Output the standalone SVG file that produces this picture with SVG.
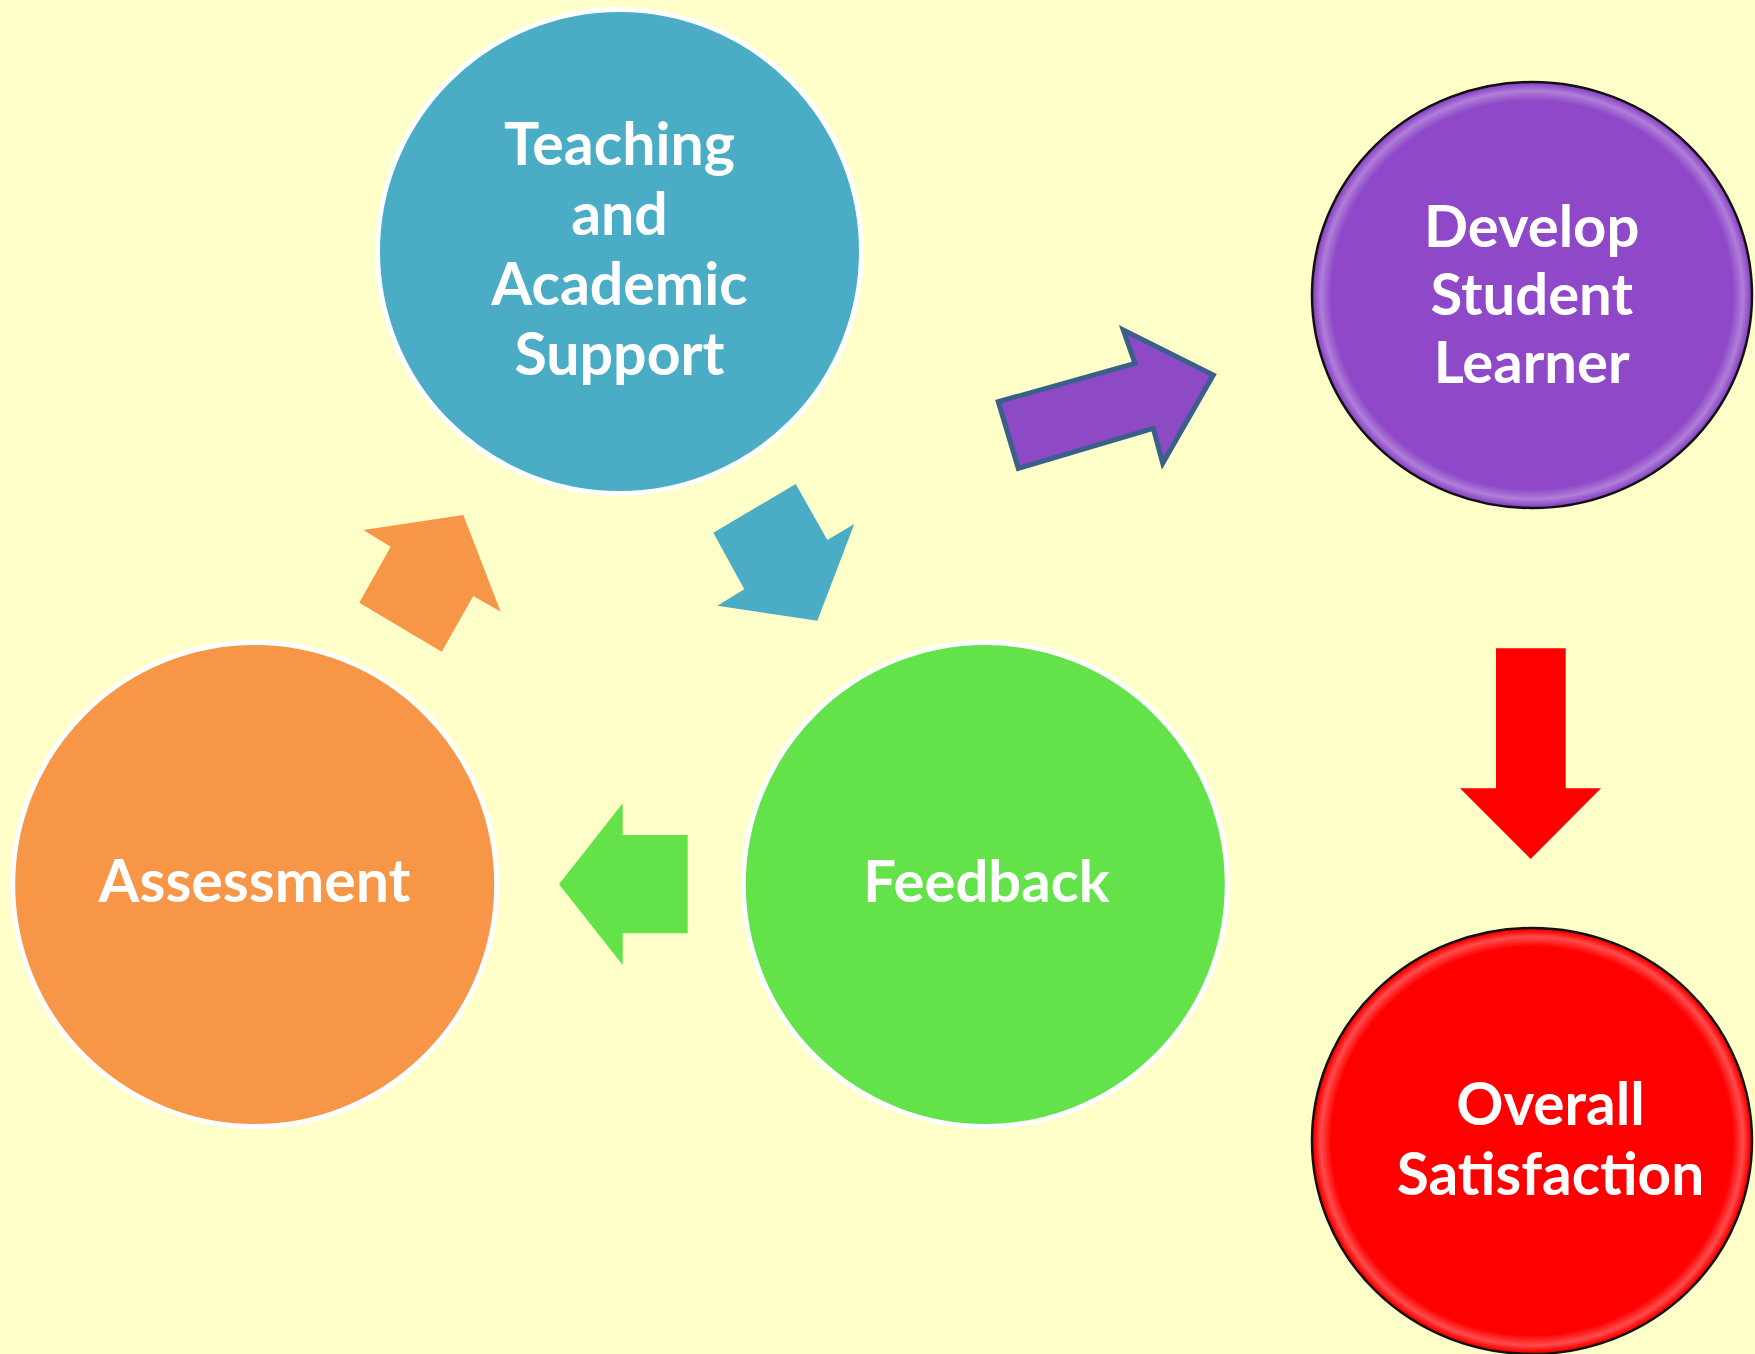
<svg xmlns="http://www.w3.org/2000/svg" width="1755" height="1354" viewBox="0 0 1755 1354">
<style>
.lbl{font-family:Lato,"Open Sans","Liberation Sans",sans-serif;font-weight:bold;fill:#ffffff;text-anchor:middle}
.ring{stroke:#ffffff;stroke-width:5}
</style>
<defs>
<radialGradient id="gloss" cx="0.5" cy="0.5" r="0.5">
<stop offset="0.92" stop-color="#ffffff" stop-opacity="0"/>
<stop offset="0.968" stop-color="#ffffff" stop-opacity="0.3"/>
<stop offset="1" stop-color="#ffffff" stop-opacity="0"/>
</radialGradient>
</defs>
<rect width="1755" height="1354" fill="#FFFFC9"/>
<g id="connectors">
<polygon points="363.3,530 463.3,515 500.7,611.7 473.3,596 441.7,651.7 359.3,602.7 390.7,546.7" fill="#F79646"/>
<polygon points="713.3,532.7 795.7,484 827.3,540 854.3,524 817.3,620.7 717.3,605.7 744.3,589.3" fill="#4BACC6"/>
<polygon points="559,884.3 622.7,803.3 622.7,835 687.7,835 687.7,933.3 622.7,933.3 622.7,965" fill="#63E24A"/>
<polygon points="998.3,401.7 1135,363.3 1123.3,330 1213.3,375 1162.7,463.3 1153.3,428.3 1018.3,468.3" fill="#8E4AC5" stroke="#3A5F8B" stroke-width="5" stroke-linejoin="miter"/>
<polygon points="1496,648.3 1565.7,648.3 1565.7,788.3 1601,788.3 1530.7,859 1460,788.3 1496,788.3" fill="#FF0000"/>
</g>
<g id="node-teaching">
<circle cx="619.5" cy="251.5" r="242" fill="#4BACC6" class="ring"/>
<text class="lbl" x="619.5" y="165" font-size="59">Teaching</text>
<text class="lbl" x="619.5" y="235" font-size="59">and</text>
<text class="lbl" x="619.5" y="305" font-size="59">Academic</text>
<text class="lbl" x="619.5" y="375" font-size="59">Support</text>
</g>
<g id="node-assessment">
<circle cx="254.7" cy="884.5" r="242" fill="#F79646" class="ring"/>
<text class="lbl" x="254.5" y="901.7" font-size="59">Assessment</text>
</g>
<g id="node-feedback">
<circle cx="985.3" cy="884.5" r="242" fill="#63E24A" class="ring"/>
<text class="lbl" x="986.5" y="901.7" font-size="58">Feedback</text>
</g>
<g id="node-develop">
<ellipse cx="1532" cy="295" rx="220" ry="213" fill="#8E48C8" stroke="#111111" stroke-width="2.5"/>
<ellipse cx="1532" cy="295" rx="218" ry="211" fill="url(#gloss)"/>
<text class="lbl" x="1531.7" y="247" font-size="58">Develop</text>
<text class="lbl" x="1531.7" y="315" font-size="58">Student</text>
<text class="lbl" x="1531.7" y="383" font-size="58">Learner</text>
</g>
<g id="node-overall">
<ellipse cx="1532" cy="1141" rx="220" ry="213" fill="#FF0000" stroke="#111111" stroke-width="2.5"/>
<ellipse cx="1532" cy="1141" rx="218" ry="211" fill="url(#gloss)"/>
<text class="lbl" x="1550.5" y="1125" font-size="58.5">Overall</text>
<text class="lbl" x="1550.5" y="1195" font-size="58.5">Satisfaction</text>
</g>
</svg>
